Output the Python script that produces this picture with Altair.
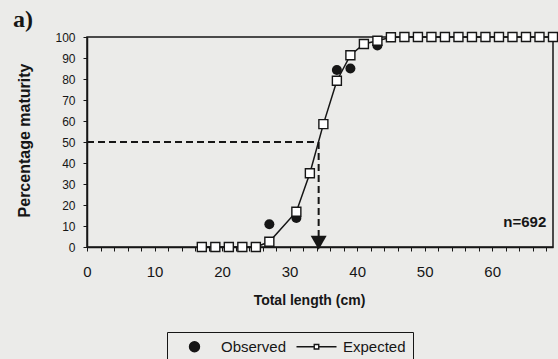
import altair as alt
import pandas as pd

# Length classes (cm) with expected (fitted) maturity, percent
expected_len = [17, 19, 21, 23, 25, 27, 31, 33, 35, 37, 39, 41, 43, 45,
                47, 49, 51, 53, 55, 57, 59, 61, 63, 65, 67, 69]
expected_pct = [0, 0, 0, 0, 0, 2.5, 16.8, 35.1, 58.5, 79.2, 91.3, 96.7, 98.2, 99.9,
                100, 100, 100, 100, 100, 100, 100, 100, 100, 100, 100, 100]

# Observed maturity, percent
observed_len = [27, 31, 37, 39, 43]
observed_pct = [10.8, 13.8, 84.3, 85.0, 96.0]

# Length at 50% maturity and sample size
l50 = 34.3
p50 = 50
sample_n = 692

series_names = ["Observed", "Expected"]

FONT = "Liberation Sans"
INK = "#161616"
PAPER = "#ebebe9"

exp_df = pd.DataFrame({"length": expected_len, "pct": expected_pct})
obs_df = pd.DataFrame({"length": observed_len, "pct": observed_pct})
l50_df = pd.DataFrame({"start": [0], "l50": [l50], "p50": [p50], "foot": [5], "tip": [2]})
note_df = pd.DataFrame({"x": [68], "y": [12], "label": [f"n={sample_n}"]})
panel_df = pd.DataFrame({"label": ["a)"]})
legend_df = pd.DataFrame({"series": series_names})

x_scale = alt.Scale(domain=[0, 69], nice=False)
y_scale = alt.Scale(domain=[0, 100], nice=False)

x_axis = alt.Axis(
    values=list(range(0, 69, 2)),
    labelExpr="datum.value % 10 == 0 ? datum.label : ''",
    labelOverlap=False, labelFlush=False,
    labelFont=FONT, labelFontSize=15, labelColor=INK, labelPadding=13,
    tickSize=4, tickColor=INK, domainColor=INK, domainWidth=1.5,
    grid=False,
    title="Total length (cm)", titleFont=FONT, titleFontSize=14, titleFontWeight="bold",
    titleColor=INK, titleX=222, titleY=57, titleAlign="center", titleBaseline="alphabetic",
)
y_axis = alt.Axis(
    values=list(range(0, 101, 10)),
    labelOverlap=False,
    labelFont=FONT, labelFontSize=12, labelColor=INK, labelPadding=8,
    tickSize=4, tickColor=INK, domainColor=INK, domainWidth=1.5,
    grid=False,
    title="Percentage maturity", titleFont=FONT, titleFontSize=16, titleFontWeight="bold",
    titleColor=INK, titleAngle=270, titleX=-58, titleY=103, titleAlign="center",
    titleBaseline="alphabetic",
)


def xq(field):
    return alt.X(field, scale=x_scale, axis=x_axis)


def yq(field):
    return alt.Y(field, scale=y_scale, axis=y_axis)


# 50% maturity guides: horizontal dash to the curve, vertical dash down to the axis
h_guide = alt.Chart(l50_df).mark_rule(strokeDash=[7, 4], strokeWidth=2, color=INK).encode(
    x=xq("start:Q"), x2="l50:Q", y=yq("p50:Q"),
)
v_guide = alt.Chart(l50_df).mark_rule(strokeDash=[7, 4], strokeWidth=2, color=INK).encode(
    x=xq("l50:Q"), y=yq("p50:Q"), y2="foot:Q",
)
arrow = alt.Chart(l50_df).mark_point(shape="triangle-down", filled=True, size=256,
                                     color=INK, opacity=1).encode(
    x=xq("l50:Q"), y=yq("tip:Q"),
)

exp_line = alt.Chart(exp_df).mark_line(color=INK, strokeWidth=1.5).encode(
    x=xq("length:Q"), y=yq("pct:Q"),
)
obs_points = alt.Chart(obs_df).mark_point(shape="circle", filled=True, size=100,
                                          color=INK, opacity=1).encode(
    x=xq("length:Q"), y=yq("pct:Q"),
)
exp_points = alt.Chart(exp_df).mark_point(shape="square", filled=True, size=81, fill="white",
                                          stroke=INK, strokeWidth=1.4, opacity=1).encode(
    x=xq("length:Q"), y=yq("pct:Q"),
)

note = alt.Chart(note_df).mark_text(font=FONT, fontSize=15, fontWeight="bold", color=INK,
                                    align="right", baseline="middle").encode(
    x=xq("x:Q"), y=yq("y:Q"), text="label:N",
)
panel = alt.Chart(panel_df).mark_text(font="Liberation Serif", fontSize=24, fontWeight="bold",
                                      color=INK, align="center", baseline="alphabetic").encode(
    x=alt.value(-64), y=alt.value(-10), text="label:N",
)

# Legend: filled circle for observed, line-with-square for expected
expected_symbol = "M-4,0H-0.45M0.45,0H4M-0.45,-0.45H0.45V0.45H-0.45Z"
legend_opts = alt.Legend(
    title=None, orient="none", legendX=80, legendY=295, direction="horizontal",
    strokeColor=INK, fillColor=PAPER, padding=7,
    symbolSize=100, symbolStrokeColor=INK, symbolStrokeWidth=1.4, symbolOffset=13,
    labelFont=FONT, labelFontSize=15, labelColor=INK, labelOffset=19, columnPadding=6,
)
legend_layer = alt.Chart(legend_df).mark_point(filled=True, strokeWidth=1.4,
                                               opacity=1).encode(
    shape=alt.Shape("series:N", scale=alt.Scale(domain=series_names,
                                                range=["circle", expected_symbol]),
                    legend=legend_opts),
    fill=alt.Fill("series:N", scale=alt.Scale(domain=series_names, range=[INK, "white"]),
                  legend=legend_opts),
    stroke=alt.Stroke("series:N", scale=alt.Scale(domain=series_names, range=[INK, INK]),
                      legend=legend_opts),
).transform_filter("false")

chart = alt.layer(
    h_guide, v_guide, exp_line, obs_points, exp_points, arrow, note, panel, legend_layer
).properties(
    width=466, height=210,
    padding={"left": 87, "top": 37, "right": 5, "bottom": 112},
    autosize=alt.AutoSizeParams(type="none"),
).configure(
    background=PAPER,
).configure_view(
    stroke=INK, strokeWidth=1.5,
)

chart.save("out.html", embed_options={"renderer": "svg", "actions": False})
